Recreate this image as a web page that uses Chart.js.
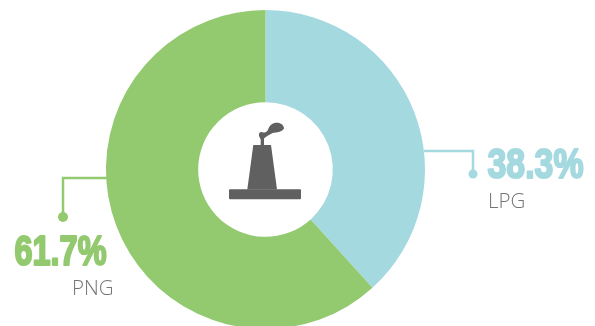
<!DOCTYPE html>
<html>
<head>
<meta charset="utf-8">
<title>LPG and PNG share</title>
<script src="https://cdn.jsdelivr.net/npm/chart.js@4"></script>
<style>
  html, body { margin: 0; padding: 0; background: #fff; }
  #wrap { width: 595px; height: 326px; overflow: hidden; }
  canvas { display: block; }
</style>
</head>
<body>
<div id="wrap"><canvas id="share-chart" width="595" height="340"></canvas></div>
<script>
const categories = ['LPG', 'PNG']
const shares = [38.3, 61.7]
const colors = ['#a5d9e0', '#93c96f']

const GREY_TEXT = '#757575'
const ICON_GREY = '#606060'

// squeezes bold text into a fixed width, there is no condensed face installed
function drawFitted(ctx, text, left, baseline, width, color) {
  ctx.save()
  ctx.font = 'bold 43px "Liberation Sans Narrow", "Liberation Sans", sans-serif'
  ctx.textAlign = 'left'
  ctx.textBaseline = 'alphabetic'
  const natural = ctx.measureText(text).width
  ctx.translate(left, baseline)
  ctx.scale(width / natural, 1)
  ctx.fillStyle = color
  ctx.strokeStyle = color
  ctx.lineWidth = 2.2
  ctx.lineJoin = 'round'
  ctx.fillText(text, 0, 0)
  ctx.strokeText(text, 0, 0)
  ctx.restore()
}

function drawLeader(ctx, points, dotRadius, color) {
  ctx.save()
  ctx.strokeStyle = color
  ctx.fillStyle = color
  ctx.lineWidth = 2.5
  ctx.beginPath()
  points.forEach(([x, y], i) => (i ? ctx.lineTo(x, y) : ctx.moveTo(x, y)))
  ctx.stroke()
  const [dx, dy] = points[points.length - 1]
  ctx.beginPath()
  ctx.arc(dx, dy, dotRadius, 0, Math.PI * 2)
  ctx.fill()
  ctx.restore()
}

function drawFactory(ctx, cx, cy) {
  ctx.save()
  ctx.translate(cx, cy)
  ctx.fillStyle = ICON_GREY

  // base slab
  ctx.beginPath()
  ctx.roundRect(-36.5, 19.8, 72, 10, 1)
  ctx.fill()

  // chimney
  ctx.beginPath()
  ctx.moveTo(-12.2, -24.5)
  ctx.lineTo(5.5, -24.5)
  ctx.lineTo(11.5, 20)
  ctx.lineTo(-18.2, 20)
  ctx.closePath()
  ctx.fill()

  // smoke
  ctx.beginPath()
  ctx.moveTo(-4.8, -24.5)
  ctx.lineTo(-1.5, -24.5)
  ctx.lineTo(-1.5, -31)
  ctx.bezierCurveTo(1, -33, 3, -34.5, 6.2, -36)
  ctx.bezierCurveTo(8, -37.5, 16, -36.5, 18.5, -41)
  ctx.bezierCurveTo(18.5, -44.5, 15, -46.8, 11.8, -46.8)
  ctx.bezierCurveTo(7, -47, 4.5, -44.5, 3, -41)
  ctx.bezierCurveTo(2, -38, 0, -36.5, -2, -37)
  ctx.bezierCurveTo(-5, -38.5, -7, -37, -6.5, -33.5)
  ctx.lineTo(-4.8, -30)
  ctx.closePath()
  ctx.fill()
  ctx.restore()
}

const calloutPlugin = {
  id: 'callouts',
  afterDraw(chart) {
    const ctx = chart.ctx
    const arc = chart.getDatasetMeta(0).data[0]
    const { x: cx, y: cy, outerRadius: r } = arc

    // LPG on the right
    drawLeader(ctx, [[cx + r - 1, 151], [473, 151], [473, 174]], 4.5, colors[0])
    drawFitted(ctx, shares[0].toFixed(1) + '%', 487.5, 178, 96, colors[0])

    // PNG on the left
    drawLeader(ctx, [[cx - r + 1, 178], [63, 178], [63, 217]], 5, colors[1])
    drawFitted(ctx, shares[1].toFixed(1) + '%', 14.5, 265, 92, colors[1])

    ctx.save()
    ctx.font = '300 20.5px "Open Sans", sans-serif'
    ctx.fillStyle = GREY_TEXT
    ctx.textBaseline = 'alphabetic'
    ctx.fillText(categories[0], 488, 208)
    ctx.fillText(categories[1], 72, 295)
    ctx.restore()

    drawFactory(ctx, cx, cy)
  }
}

const chart = new Chart(document.getElementById('share-chart'), {
  type: 'doughnut',
  data: {
    labels: categories,
    datasets: [{
      data: shares,
      backgroundColor: colors,
      borderWidth: 0,
      hoverOffset: 0
    }]
  },
  options: {
    responsive: false,
    animation: false,
    cutout: '42.2%',
    // canvas runs past the window bottom so the ring can be cut off there
    layout: { padding: { top: 10, bottom: 11, right: 64, left: 0 } },
    plugins: {
      legend: { display: false },
      tooltip: { enabled: false }
    }
  },
  plugins: [calloutPlugin]
})
</script>
</body>
</html>
